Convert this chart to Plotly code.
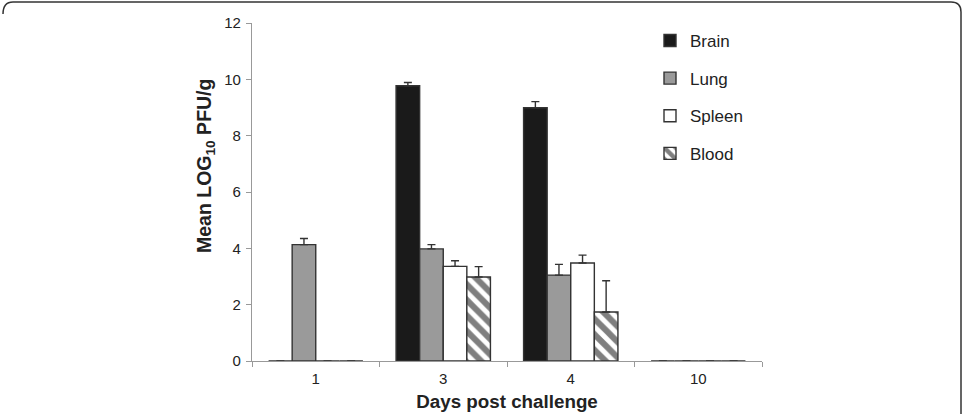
import plotly.graph_objects as go

days = ["1", "3", "4", "10"]
brain = [0, 9.77, 8.99, 0]
brain_err = [0, 0.12, 0.22, 0]
lung = [4.13, 3.98, 3.05, 0]
lung_err = [0.22, 0.15, 0.38, 0]
spleen = [0, 3.36, 3.48, 0]
spleen_err = [0, 0.20, 0.28, 0]
blood = [0, 2.98, 1.74, 0]
blood_err = [0, 0.37, 1.11, 0]
y_ticks = [0, 2, 4, 6, 8, 10, 12]

FONT = "Liberation Sans"
L, R, T, B = 252, 201, 23, 53
W, H = 963, 414
PW, PH = W - L - R, H - T - B

def err(vals):
    return dict(type="data", array=vals, arrayminus=[0] * len(vals), symmetric=False,
                color="#333333", thickness=1.4, width=4)

fig = go.Figure()
specs = [
    ("Brain", brain, brain_err, dict(color="#1a1a1a")),
    ("Lung", lung, lung_err, dict(color="#9a9a9a")),
    ("Spleen", spleen, spleen_err, dict(color="#ffffff")),
    ("Blood", blood, blood_err, dict(color="#ffffff",
        pattern=dict(shape="\\", fgcolor="#000000", bgcolor="#ffffff", size=11, solidity=0.55))),
]
for name, vals, e, m in specs:
    m = dict(m)
    m["line"] = dict(color="#333333", width=1.4)
    fig.add_trace(go.Bar(x=days, y=vals, name=name, marker=m, error_y=err(e),
                         legendgroup=name))

def px(x):
    return (x - L) / PW

def py(y):
    return (H - B - y) / PH

border = (f"M {px(3)},{py(14)} Q {px(3)},{py(2)} {px(13)},{py(2)} "
          f"L {px(951)},{py(2)} Q {px(961)},{py(2)} {px(961)},{py(12)} L {px(961)},{py(414)}")

fig.update_layout(
    width=W, height=H,
    margin=dict(l=L, r=R, t=T, b=B, autoexpand=False),
    paper_bgcolor="white", plot_bgcolor="white",
    barmode="group", bargap=0.26, bargroupgap=0,
    font=dict(family=FONT, color="#222222", size=15),
    showlegend=True,
    legend=dict(x=px(650), y=py(23), xanchor="left", yanchor="top",
                font=dict(size=17, family=FONT, color="#222222"),
                tracegroupgap=12.5, itemwidth=30, bgcolor="rgba(0,0,0,0)"),
    xaxis=dict(type="category", showline=True, linecolor="#999999", linewidth=1.2,
               ticks="outside", tickson="boundaries", ticklen=5, tickcolor="#999999",
               showgrid=False, tickfont=dict(size=15, color="#222222"),
               ticklabelstandoff=4,
               title=dict(text="<b>Days post challenge</b>", font=dict(size=18.8, color="#222222"),
                          standoff=8)),
    yaxis=dict(range=[0, 12], tickvals=y_ticks, showline=True, linecolor="#999999",
               linewidth=1.2, ticks="outside", ticklen=5, tickcolor="#999999",
               showgrid=False, zeroline=False, tickfont=dict(size=15, color="#222222"),
               ticklabelstandoff=2),
    annotations=[dict(text="<b>Mean LOG<sub>10</sub> PFU/g</b>", textangle=-90,
                      x=px(205), y=py(166), xref="paper", yref="paper",
                      xanchor="center", yanchor="middle", showarrow=False,
                      font=dict(size=19.5, color="#222222", family=FONT))],
    shapes=[dict(type="path", path=border, xref="paper", yref="paper",
                 line=dict(color="#333333", width=1.5), layer="above")],
)

fig.write_html("out.html")
